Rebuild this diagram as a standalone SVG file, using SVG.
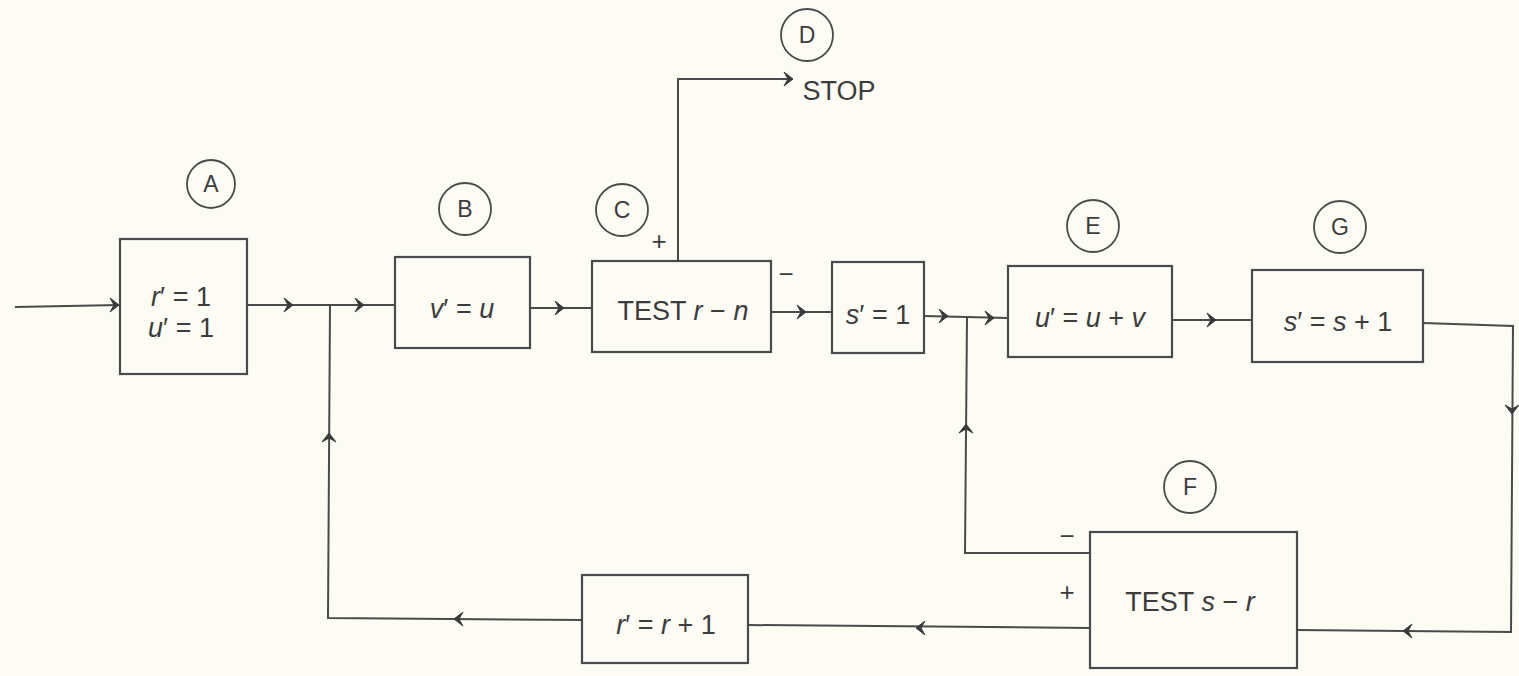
<svg xmlns="http://www.w3.org/2000/svg" width="1519" height="676" viewBox="0 0 1519 676">
<style>
.bg{fill:#fcfcf5}
.box{fill:none;stroke:#4a4a4a;stroke-width:2.2}
.circ{fill:none;stroke:#4a4a4a;stroke-width:1.8}
.ln{fill:none;stroke:#4a4a4a;stroke-width:2}
.ah{fill:#3a3a3a;stroke:#3a3a3a;stroke-width:1}
.t{font-family:"Liberation Sans",Arial,sans-serif;font-size:27px;fill:#3c3c3c;text-anchor:middle}
.lbl{font-family:"Liberation Sans",Arial,sans-serif;font-size:23px;fill:#3c3c3c;text-anchor:middle}
.sg{font-family:"Liberation Sans",Arial,sans-serif;font-size:26px;fill:#3c3c3c;text-anchor:middle}
.i{font-style:italic}
</style>
<defs>
<path id="ah" d="M-9,-7 L0,0 L-9,7 L-5,0 Z"/>
</defs>
<rect class="bg" x="0" y="0" width="1519" height="676"/>

<g id="connectors">
<path class="ln" d="M15,307 L120,305"/>
<path class="ln" d="M247,305 L395,305"/>
<path class="ln" d="M530,308 L592,308"/>
<path class="ln" d="M771,312 L832,312"/>
<path class="ln" d="M924,316 L1008,318"/>
<path class="ln" d="M1172,320 L1252,320"/>
<path class="ln" d="M1423,323 L1513,326 L1511,632 L1297,630"/>
<path class="ln" d="M1090,628 L748,625"/>
<path class="ln" d="M582,620 L328,618 L330,305"/>
<path class="ln" d="M1090,553 L965,553 L967,317"/>
<path class="ln" d="M678,261 L678,79 L792,79"/>
<use href="#ah" class="ah" transform="translate(119,305)"/>
<use href="#ah" class="ah" transform="translate(293,305)"/>
<use href="#ah" class="ah" transform="translate(364,305)"/>
<use href="#ah" class="ah" transform="translate(564,308)"/>
<use href="#ah" class="ah" transform="translate(806,312)"/>
<use href="#ah" class="ah" transform="translate(948,316)"/>
<use href="#ah" class="ah" transform="translate(994,318)"/>
<use href="#ah" class="ah" transform="translate(1216,320)"/>
<use href="#ah" class="ah" transform="translate(793,79)"/>
<use href="#ah" class="ah" transform="translate(1512,414) rotate(90)"/>
<use href="#ah" class="ah" transform="translate(1403,631) rotate(180)"/>
<use href="#ah" class="ah" transform="translate(916,628) rotate(180)"/>
<use href="#ah" class="ah" transform="translate(454,619) rotate(180)"/>
<use href="#ah" class="ah" transform="translate(329,433) rotate(-90)"/>
<use href="#ah" class="ah" transform="translate(966,424) rotate(-90)"/>
<text class="sg" x="659" y="250">+</text>
<text class="sg" x="786" y="283">−</text>
<text class="sg" x="1067" y="545">−</text>
<text class="sg" x="1067" y="601">+</text>
</g>

<g id="node-A">
<circle class="circ" cx="211" cy="184" r="24"/>
<text class="lbl" x="211" y="192">A</text>
<rect class="box" x="120" y="239" width="127" height="135"/>
<text class="t" x="181" y="306"><tspan class="i">r</tspan>′ = 1</text>
<text class="t" x="181" y="337"><tspan class="i">u</tspan>′ = 1</text>
</g>

<g id="node-B">
<circle class="circ" cx="465" cy="209" r="26"/>
<text class="lbl" x="465" y="217">B</text>
<rect class="box" x="395" y="257" width="135" height="91"/>
<text class="t" x="462" y="318"><tspan class="i">v</tspan>′ = <tspan class="i">u</tspan></text>
</g>

<g id="node-C">
<circle class="circ" cx="622" cy="210" r="26"/>
<text class="lbl" x="622" y="218">C</text>
<rect class="box" x="592" y="261" width="179" height="91"/>
<text class="t" x="683" y="320">TEST <tspan class="i">r</tspan> − <tspan class="i">n</tspan></text>
</g>

<g id="node-D">
<circle class="circ" cx="807" cy="35" r="26"/>
<text class="lbl" x="807" y="43">D</text>
<text class="t" x="839" y="100">STOP</text>
</g>

<g id="node-s1">
<rect class="box" x="832" y="262" width="92" height="91"/>
<text class="t" x="878" y="324"><tspan class="i">s</tspan>′ = 1</text>
</g>

<g id="node-E">
<circle class="circ" cx="1093" cy="226" r="26"/>
<text class="lbl" x="1093" y="234">E</text>
<rect class="box" x="1008" y="266" width="164" height="91"/>
<text class="t" x="1090" y="327"><tspan class="i">u</tspan>′ = <tspan class="i">u</tspan> + <tspan class="i">v</tspan></text>
</g>

<g id="node-G">
<circle class="circ" cx="1340" cy="227" r="26"/>
<text class="lbl" x="1340" y="235">G</text>
<rect class="box" x="1252" y="270" width="171" height="92"/>
<text class="t" x="1338" y="331"><tspan class="i">s</tspan>′ = <tspan class="i">s</tspan> + 1</text>
</g>

<g id="node-F">
<circle class="circ" cx="1190" cy="487" r="26"/>
<text class="lbl" x="1190" y="495">F</text>
<rect class="box" x="1090" y="532" width="207" height="136"/>
<text class="t" x="1190" y="611">TEST <tspan class="i">s</tspan> − <tspan class="i">r</tspan></text>
</g>

<g id="node-r1">
<rect class="box" x="582" y="575" width="166" height="88"/>
<text class="t" x="666" y="634"><tspan class="i">r</tspan>′ = <tspan class="i">r</tspan> + 1</text>
</g>
</svg>
